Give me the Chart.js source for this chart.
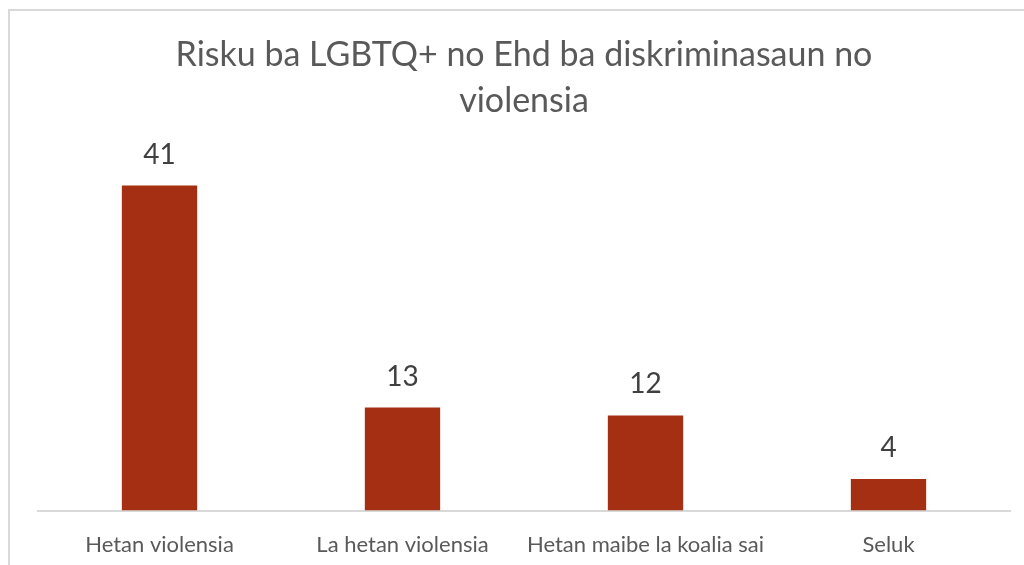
<!DOCTYPE html>
<html lang="tet">
<head>
<meta charset="UTF-8">
<title>Risku ba LGBTQ+</title>
<script src="https://cdn.jsdelivr.net/npm/chart.js@4.4.7/dist/chart.umd.min.js"></script>
<style>
  html, body { margin: 0; padding: 0; background: #fff; }
  .wrap { width: 1024px; height: 565px; position: relative; }
</style>
</head>
<body>
<div class="wrap"><canvas id="chart"></canvas></div>
<script>
  const titleLines = ['Risku ba LGBTQ+ no Ehd ba diskriminasaun no', 'violensia'];
  const categories = ['Hetan violensia', 'La hetan violensia', 'Hetan maibe la koalia sai', 'Seluk'];
  const values = [41, 13, 12, 4];

  const fontFamily = 'Lato, "Open Sans", sans-serif';

  // moldura cinza em volta do gráfico
  const framePlugin = {
    id: 'frame',
    beforeDraw(chart) {
      const ctx = chart.ctx;
      ctx.save();
      ctx.strokeStyle = '#d9d9d9';
      ctx.lineWidth = 2;
      ctx.strokeRect(9, 10, 1100, 700);
      ctx.restore();
    }
  };

  // rótulos de valor acima das barras
  const labelPlugin = {
    id: 'valueLabels',
    afterDatasetsDraw(chart) {
      const ctx = chart.ctx;
      const meta = chart.getDatasetMeta(0);
      ctx.save();
      ctx.font = '28px ' + fontFamily;
      ctx.fillStyle = '#404040';
      ctx.textAlign = 'center';
      ctx.textBaseline = 'alphabetic';
      meta.data.forEach((bar, i) => {
        ctx.fillText(values[i], bar.x, bar.y - 22);
      });
      ctx.restore();
    }
  };

  new Chart(document.getElementById('chart'), {
    type: 'bar',
    data: {
      labels: categories,
      datasets: [{
        data: values,
        backgroundColor: '#a52f12',
        borderWidth: 0,
        barPercentage: 0.31,
        categoryPercentage: 1
      }]
    },
    options: {
      responsive: true,
      maintainAspectRatio: false,
      animation: false,
      layout: { padding: { left: 38, right: 14, top: 6, bottom: -14 } },
      plugins: {
        legend: { display: false },
        tooltip: { enabled: false },
        title: {
          display: true,
          text: titleLines,
          color: '#595959',
          font: { family: fontFamily, size: 34, weight: 'normal', lineHeight: 1.35 },
          padding: { top: 26, bottom: 30 }
        }
      },
      scales: {
        x: {
          grid: { display: false, drawTicks: false },
          border: { display: true, color: '#d9d9d9', width: 2 },
          ticks: { color: '#595959', font: { family: fontFamily, size: 22 }, padding: 21, maxRotation: 0 }
        },
        y: {
          display: false,
          min: 0,
          max: 45
        }
      }
    },
    plugins: [framePlugin, labelPlugin]
  });
</script>
</body>
</html>
